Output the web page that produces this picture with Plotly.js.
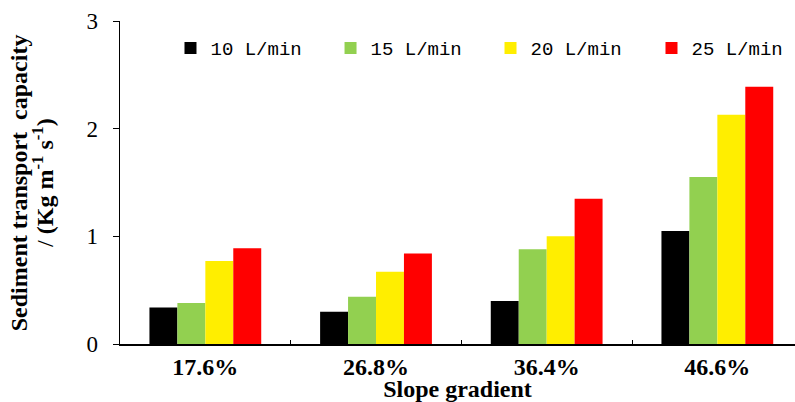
<!DOCTYPE html>
<html>
<head>
<meta charset="utf-8">
<script src="https://cdn.plot.ly/plotly-3.0.1.min.js"></script>
<style>html,body{margin:0;padding:0;background:#fff;}#chart{width:795px;height:402px;}</style>
</head>
<body>
<div id="chart"></div>
<script>
const categories = ["17.6%", "26.8%", "36.4%", "46.6%"];
const seriesNames = ["10 L/min", "15 L/min", "20 L/min", "25 L/min"];
const flow10 = [0.34, 0.30, 0.40, 1.05];
const flow15 = [0.38, 0.44, 0.88, 1.55];
const flow20 = [0.77, 0.67, 1.00, 2.13];
const flow25 = [0.89, 0.84, 1.35, 2.39];
const colors = ["#000000", "#92D050", "#FFEE00", "#FF0000"];
const yTicks = [0, 1, 2, 3];

const allValues = [flow10, flow15, flow20, flow25];
const legendIds = ["legend", "legend2", "legend3", "legend4"];
const legendX = [0.0748, 0.3119, 0.5489, 0.7874];

const traces = allValues.map((vals, i) => ({
  type: "bar",
  name: seriesNames[i],
  x: categories,
  y: vals,
  legend: legendIds[i],
  marker: {color: colors[i], line: {width: 0}}
}));

const serif = "Liberation Serif, Times New Roman, serif";
const layout = {
  width: 795, height: 402,
  margin: {l: 120, r: 0, t: 21, b: 58},
  paper_bgcolor: "#fff", plot_bgcolor: "#fff",
  barmode: "group", bargap: 0.345, bargroupgap: 0,
  showlegend: true,
  xaxis: {
    type: "category", range: [-0.5, 3.455],
    showline: true, linecolor: "#000", linewidth: 1.5,
    ticks: "inside", tickson: "boundaries", ticklen: 4, tickcolor: "#000", tickwidth: 1,
    tickfont: {family: serif, size: 24, color: "#000", weight: "bold"},
    ticklabelstandoff: 1,
    showgrid: false, zeroline: false,
    title: {text: "<b>Slope gradient</b>", font: {family: serif, size: 24, color: "#000"}, standoff: 0}
  },
  yaxis: {
    range: [0, 3], tickvals: yTicks, ticktext: yTicks.map(String),
    showline: true, linecolor: "#000", linewidth: 1.5,
    ticks: "outside", ticklen: 6, tickcolor: "#000", tickwidth: 1,
    tickfont: {family: serif, size: 23, color: "#000"},
    ticklabelstandoff: 10,
    showgrid: false, zeroline: false
  },
  annotations: [
    {text: "<b>Sediment transport  capacity</b>", xref: "paper", yref: "paper",
     x: -0.150, y: 0.5, xanchor: "center", yanchor: "middle", textangle: -90, showarrow: false,
     font: {family: serif, size: 24, color: "#000"}},
    {text: "/ <b>(Kg m<sup>-1</sup> s<sup>-1</sup>)</b>", xref: "paper", yref: "paper",
     x: -0.115, y: 0.5, xanchor: "center", yanchor: "middle", textangle: -90, showarrow: false,
     font: {family: serif, size: 24, color: "#000"}}
  ]
};

legendIds.forEach((id, i) => {
  layout[id] = {
    orientation: "h", x: legendX[i], xanchor: "left", y: 0.916, yanchor: "middle",
    font: {family: "Liberation Mono, monospace", size: 19, color: "#000"},
    bgcolor: "rgba(0,0,0,0)", borderwidth: 0
  };
});

Plotly.newPlot("chart", traces, layout, {displayModeBar: false, staticPlot: true});
</script>
</body>
</html>
